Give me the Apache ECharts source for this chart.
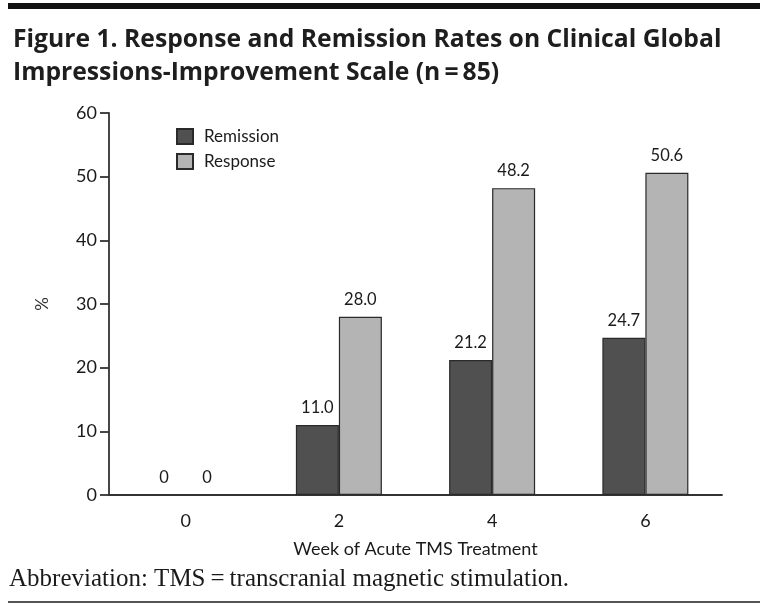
<!DOCTYPE html>
<html><head><meta charset="utf-8">
<script src="https://cdn.jsdelivr.net/npm/echarts@6/dist/echarts.min.js"></script>
<style>html,body{margin:0;padding:0;background:#fff}#c{width:768px;height:606px}</style>
</head><body><div id="c"></div>
<script>
const categories = ['0', '2', '4', '6'];
const remission = [0, 11.0, 21.2, 24.7];
const response = [0, 28.0, 48.2, 50.6];
const yTicks = [0, 10, 20, 30, 40, 50, 60];
const titleText = 'Figure 1. Response and Remission Rates on Clinical Global\nImpressions-Improvement Scale (n\u2009=\u200985)';
const footerText = 'Abbreviation: TMS\u2009=\u2009transcranial magnetic stimulation.';
const FONT = 'Lato';
const TXT = '#1a1a1a';
const chart = echarts.init(document.getElementById('c'));
const lbl = {
  show: true, position: 'top', distance: 9, color: TXT, fontFamily: FONT, fontSize: 16.5,
  formatter: p => p.value === 0 ? '0' : p.value.toFixed(1)
};
const toData = arr => arr.map(v => v === 0 ? { value: v, itemStyle: { borderWidth: 0, color: 'rgba(0,0,0,0)' } } : v);
chart.setOption({
  animation: false,
  backgroundColor: '#fff',
  title: {
    text: titleText, left: 8, top: 18,
    textStyle: { fontFamily: 'Open Sans', fontWeight: 'bold', fontSize: 24.7, lineHeight: 33, color: '#1e1e1e' }
  },
  legend: {
    left: 171, top: 123, orient: 'vertical', itemWidth: 16, itemHeight: 15, itemGap: 8, icon: 'rect',
    textStyle: { fontFamily: FONT, fontSize: 17, color: TXT, padding: [0, 0, 0, 6] },
    data: ['Remission', 'Response']
  },
  grid: { left: 109, right: 46, top: 113, bottom: 111 },
  xAxis: {
    type: 'category', data: categories,
    name: 'Week of Acute TMS Treatment', nameLocation: 'middle', nameGap: 45,
    nameTextStyle: { fontFamily: FONT, fontSize: 18, color: TXT },
    axisLine: { lineStyle: { color: '#333', width: 1.8 } },
    axisTick: { show: false },
    axisLabel: { fontFamily: FONT, fontSize: 18, color: TXT, margin: 17 }
  },
  yAxis: {
    type: 'value', min: 0, max: 60, interval: 10,
    name: '%', nameLocation: 'middle', nameGap: 58, nameRotate: 90,
    nameTextStyle: { fontFamily: FONT, fontSize: 17, color: '#333' },
    axisLine: { show: true, lineStyle: { color: '#333', width: 1.8 } },
    axisTick: { show: true, length: 9, lineStyle: { color: '#333', width: 1.8 } },
    axisLabel: { fontFamily: FONT, fontSize: 18, color: TXT, margin: 12,
      formatter: v => yTicks.includes(v) ? String(v) : '' },
    splitLine: { show: false }
  },
  series: [
    { name: 'Remission', type: 'bar', data: toData(remission), barWidth: 43, barGap: '0%',
      itemStyle: { color: '#505050', borderColor: '#2a2a2a', borderWidth: 1.2 }, label: lbl },
    { name: 'Response', type: 'bar', data: toData(response), barWidth: 43,
      itemStyle: { color: '#b4b4b4', borderColor: '#2a2a2a', borderWidth: 1.2 }, label: lbl }
  ],
  graphic: [
    { type: 'rect', left: 8, top: 3, shape: { width: 752, height: 6 }, style: { fill: '#111' } },
    { type: 'text', left: 9, top: 567, style: { text: footerText, fontFamily: 'Liberation Serif', fontSize: 25, fill: TXT } },
    { type: 'rect', left: 8, top: 601, shape: { width: 752, height: 2 }, style: { fill: '#555' } }
  ]
});
</script></body></html>
